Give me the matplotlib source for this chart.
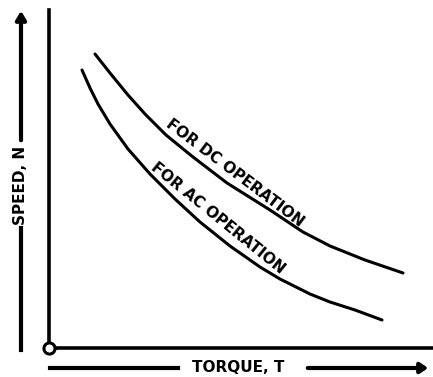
import matplotlib
matplotlib.use("Agg")
import matplotlib.pyplot as plt
import numpy as np

# Torque / speed readings (arbitrary units, origin at axis corner)
dc_torque = [46, 61, 79, 96, 117, 144, 178, 221, 254, 281, 316, 354]
dc_speed = [294, 275, 253, 234, 213, 191, 165, 138, 116, 102, 88, 75]

ac_torque = [33, 41, 49, 61, 79, 101, 126, 151, 181, 211, 231, 261, 281, 306, 333]
ac_speed = [278, 260, 244, 224, 199, 174, 149, 126, 102, 81, 69, 54, 46, 38, 28]

dc_label = "FOR DC OPERATION"
ac_label = "FOR AC OPERATION"
x_label = "TORQUE, T"
y_label = "SPEED, N"

W, H = 433, 377
fig = plt.figure(figsize=(W / 100, H / 100), dpi=100)
ax = fig.add_axes([0, 0, 1, 1])
ax.set_xlim(-49, W - 49)
ax.set_ylim(-(H - 348), 348)
ax.set_xticks([])
ax.set_yticks([])
for s in ("top", "right"):
    ax.spines[s].set_visible(False)
ax.spines["left"].set_position(("data", 0))
ax.spines["bottom"].set_position(("data", 0))
ax.spines["left"].set_bounds(0, 338)
ax.spines["bottom"].set_bounds(0, W - 49)
ax.spines["left"].set_linewidth(2.6)
ax.spines["bottom"].set_linewidth(2.6)

lw_curve = 2.2
ax.plot(dc_torque, dc_speed, color="black", lw=lw_curve, solid_capstyle="round",
        solid_joinstyle="round")
ax.plot(ac_torque, ac_speed, color="black", lw=lw_curve, solid_capstyle="round",
        solid_joinstyle="round")

# origin circle
ax.plot([0], [0], marker="o", ms=8, mfc="white", mec="black", mew=2.2, zorder=5)

fs = 11
ax.text(186, 175, dc_label, rotation=-37, rotation_mode="anchor",
        ha="center", va="center", fontsize=fs, fontweight="bold")
ax.text(169, 130, ac_label, rotation=-39, rotation_mode="anchor",
        ha="center", va="center", fontsize=fs, fontweight="bold")

# Y label with arrow
ax.text(-28, 163, y_label, rotation=90, ha="center", va="center",
        fontsize=fs, fontweight="bold")
ax.plot([-28, -28], [-2, 120], color="black", lw=3.0)
ax.annotate("", xy=(-28, 340), xytext=(-28, 205),
            arrowprops=dict(arrowstyle="-|>,head_length=0.5,head_width=0.3",
                            color="black", lw=3.0))

# X label with arrow
ax.text(189, -19, x_label, ha="center", va="center",
        fontsize=fs, fontweight="bold")
ax.plot([1, 129], [-20, -20], color="black", lw=3.0)
ax.annotate("", xy=(382, -20), xytext=(256, -20),
            arrowprops=dict(arrowstyle="-|>,head_length=0.45,head_width=0.3",
                            color="black", lw=3.0))

fig.savefig("out.png", dpi=100, facecolor="white")
